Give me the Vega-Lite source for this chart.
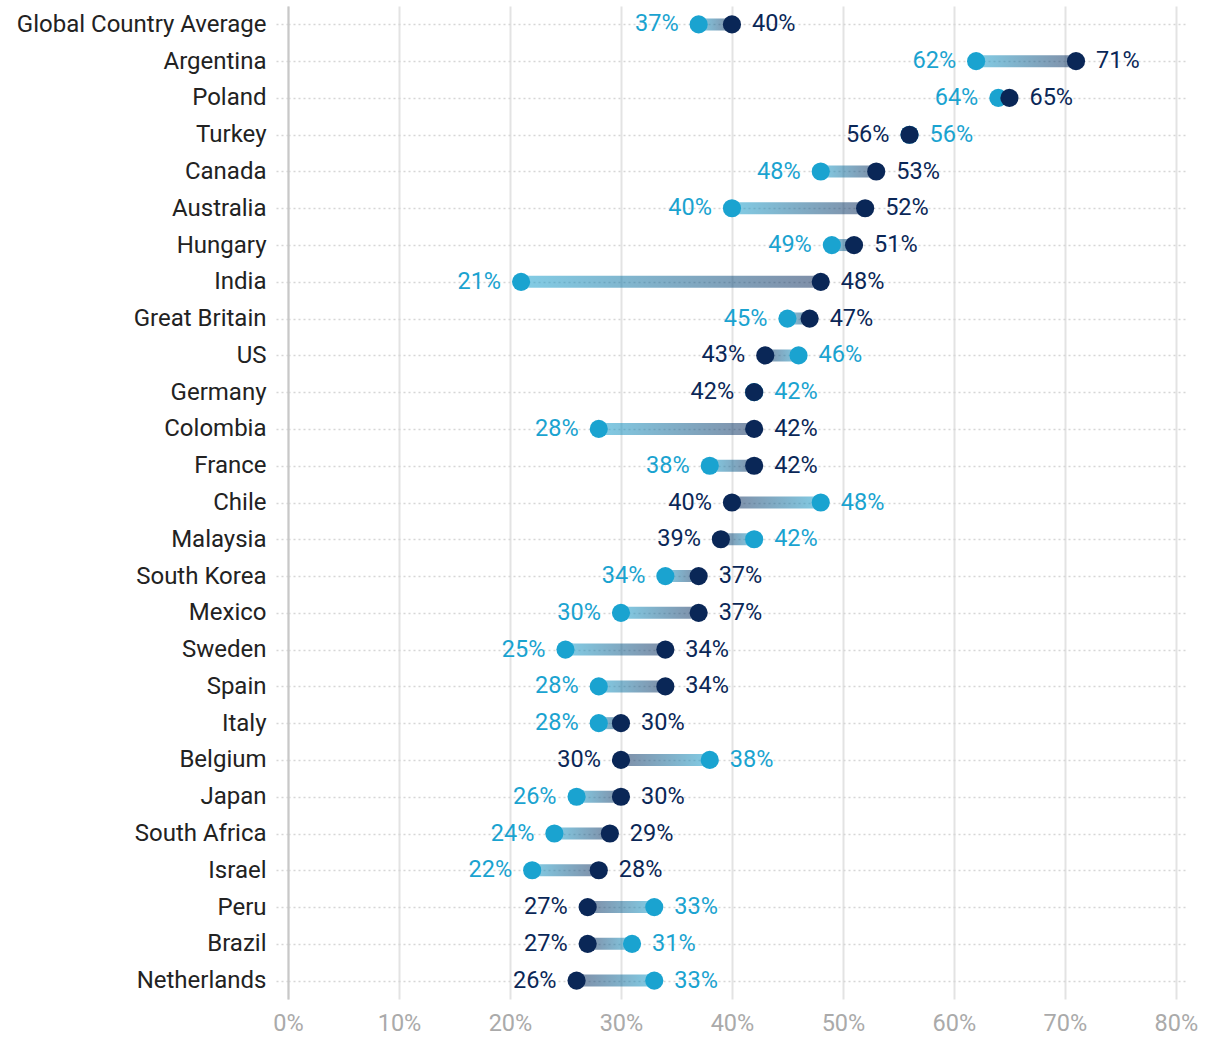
{
  "$schema": "https://vega.github.io/schema/vega-lite/v6.json",
  "width": 899,
  "height": 993,
  "autosize": {"type": "none"},
  "padding": {"left": 288, "top": 6, "right": 33, "bottom": 43},
  "background": "white",
  "config": {
    "view": {"stroke": null},
    "font": "Roboto",
    "text": {"font": "Roboto"}
  },
  "data": {
    "values": [
      {"country": "Global Country Average", "light": 0.37, "dark": 0.40},
      {"country": "Argentina", "light": 0.62, "dark": 0.71},
      {"country": "Poland", "light": 0.64, "dark": 0.65},
      {"country": "Turkey", "light": 0.56, "dark": 0.56},
      {"country": "Canada", "light": 0.48, "dark": 0.53},
      {"country": "Australia", "light": 0.40, "dark": 0.52},
      {"country": "Hungary", "light": 0.49, "dark": 0.51},
      {"country": "India", "light": 0.21, "dark": 0.48},
      {"country": "Great Britain", "light": 0.45, "dark": 0.47},
      {"country": "US", "light": 0.46, "dark": 0.43},
      {"country": "Germany", "light": 0.42, "dark": 0.42},
      {"country": "Colombia", "light": 0.28, "dark": 0.42},
      {"country": "France", "light": 0.38, "dark": 0.42},
      {"country": "Chile", "light": 0.48, "dark": 0.40},
      {"country": "Malaysia", "light": 0.42, "dark": 0.39},
      {"country": "South Korea", "light": 0.34, "dark": 0.37},
      {"country": "Mexico", "light": 0.30, "dark": 0.37},
      {"country": "Sweden", "light": 0.25, "dark": 0.34},
      {"country": "Spain", "light": 0.28, "dark": 0.34},
      {"country": "Italy", "light": 0.28, "dark": 0.30},
      {"country": "Belgium", "light": 0.38, "dark": 0.30},
      {"country": "Japan", "light": 0.26, "dark": 0.30},
      {"country": "South Africa", "light": 0.24, "dark": 0.29},
      {"country": "Israel", "light": 0.22, "dark": 0.28},
      {"country": "Peru", "light": 0.33, "dark": 0.27},
      {"country": "Brazil", "light": 0.31, "dark": 0.27},
      {"country": "Netherlands", "light": 0.33, "dark": 0.26}
    ]
  },
  "encoding": {
    "y": {
      "field": "country",
      "type": "nominal",
      "sort": null,
      "scale": {"type": "point", "padding": 0.5},
      "axis": {
        "title": null,
        "labelFontSize": 24,
        "labelColor": "#222222",
        "labelFont": "Roboto",
        "labelLimit": 400,
        "labelPadding": 8,
        "tickSize": 14,
        "tickColor": "#d6d6d6",
        "tickDash": [2, 3],
        "tickWidth": 1.5,
        "domainColor": "#c8c8c8",
        "domainWidth": 2,
        "grid": true,
        "gridColor": "#d6d6d6",
        "gridDash": [2, 3],
        "gridWidth": 1.5,
        "zindex": 0
      }
    }
  },
  "layer": [
    {
      "mark": {"type": "rule", "opacity": 0},
      "encoding": {
        "x": {
          "field": "light",
          "type": "quantitative",
          "scale": {"domain": [0, 0.81], "nice": false},
          "axis": {
            "title": null,
            "format": ".0%",
            "values": [0, 0.1, 0.2, 0.3, 0.4, 0.5, 0.6, 0.7, 0.8],
            "labelFontSize": 23.5,
            "labelColor": "#aaaaaa",
            "labelFont": "Roboto",
            "labelFlush": false,
            "labelPadding": 12,
            "ticks": false,
            "domain": false,
            "grid": true,
            "gridColor": "#e3e3e3",
            "gridWidth": 2,
            "zindex": 0
          }
        }
      }
    },
    {
      "transform": [{"filter": "datum.light < datum.dark"}],
      "mark": {
        "type": "bar",
        "height": 12,
        "fill": {
          "gradient": "linear",
          "x1": 0, "y1": 0, "x2": 1, "y2": 0,
          "stops": [
            {"offset": 0, "color": "rgba(27,163,208,0.55)"},
            {"offset": 1, "color": "rgba(10,39,87,0.52)"}
          ]
        }
      },
      "encoding": {
        "x": {"field": "light", "type": "quantitative"},
        "x2": {"field": "dark"}
      }
    },
    {
      "transform": [{"filter": "datum.dark < datum.light"}],
      "mark": {
        "type": "bar",
        "height": 12,
        "fill": {
          "gradient": "linear",
          "x1": 0, "y1": 0, "x2": 1, "y2": 0,
          "stops": [
            {"offset": 0, "color": "rgba(10,39,87,0.52)"},
            {"offset": 1, "color": "rgba(27,163,208,0.55)"}
          ]
        }
      },
      "encoding": {
        "x": {"field": "dark", "type": "quantitative"},
        "x2": {"field": "light"}
      }
    },
    {
      "mark": {"type": "point", "filled": true, "size": 330, "opacity": 1, "color": "#1aa3d0"},
      "encoding": {"x": {"field": "light", "type": "quantitative"}}
    },
    {
      "mark": {"type": "point", "filled": true, "size": 330, "opacity": 1, "color": "#0a2757"},
      "encoding": {"x": {"field": "dark", "type": "quantitative"}}
    },
    {
      "transform": [{"filter": "datum.light < datum.dark"}],
      "mark": {"type": "text", "align": "right", "baseline": "middle", "dx": -20, "fontSize": 23.5, "color": "#1aa3d0"},
      "encoding": {
        "x": {"field": "light", "type": "quantitative"},
        "text": {"field": "light", "type": "quantitative", "format": ".0%"}
      }
    },
    {
      "transform": [{"filter": "datum.light >= datum.dark"}],
      "mark": {"type": "text", "align": "left", "baseline": "middle", "dx": 20, "fontSize": 23.5, "color": "#1aa3d0"},
      "encoding": {
        "x": {"field": "light", "type": "quantitative"},
        "text": {"field": "light", "type": "quantitative", "format": ".0%"}
      }
    },
    {
      "transform": [{"filter": "datum.dark <= datum.light"}],
      "mark": {"type": "text", "align": "right", "baseline": "middle", "dx": -20, "fontSize": 23.5, "color": "#0a2757"},
      "encoding": {
        "x": {"field": "dark", "type": "quantitative"},
        "text": {"field": "dark", "type": "quantitative", "format": ".0%"}
      }
    },
    {
      "transform": [{"filter": "datum.dark > datum.light"}],
      "mark": {"type": "text", "align": "left", "baseline": "middle", "dx": 20, "fontSize": 23.5, "color": "#0a2757"},
      "encoding": {
        "x": {"field": "dark", "type": "quantitative"},
        "text": {"field": "dark", "type": "quantitative", "format": ".0%"}
      }
    }
  ]
}
